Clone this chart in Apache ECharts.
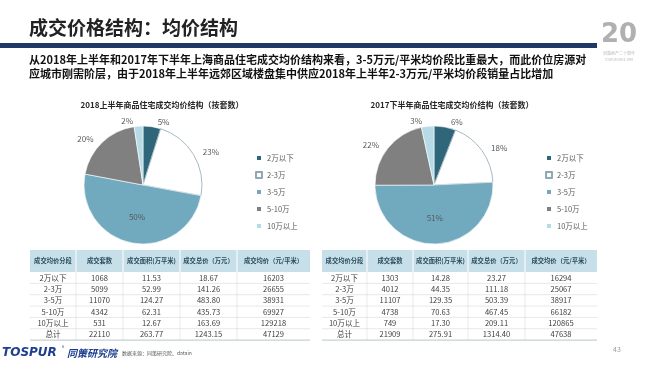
<!DOCTYPE html>
<html><head><meta charset="utf-8">
<script src="https://cdn.jsdelivr.net/npm/echarts@6/dist/echarts.min.js"></script>
<style>html,body{margin:0;padding:0;background:#fff}#c{width:650px;height:365px}</style>
</head><body><div id="c"></div>
<script>
// ---------- data ----------
const categories = ['2万以下','2-3万','3-5万','5-10万','10万以上'];
const totalLabel = '总计';
const headers = ['成交均价分段','成交套数','成交面积(万平米)','成交总价（万元）','成交均价（元/平米）'];
const title2018 = '2018上半年商品住宅成交均价结构（按套数）';
const title2017 = '2017下半年商品住宅成交均价结构（按套数）';
const count2018 = [1068, 5099, 11070, 4342, 531, 22110];
const area2018  = [11.53, 52.99, 124.27, 62.31, 12.67, 263.77];
const price2018 = [18.67, 141.26, 483.80, 435.73, 163.69, 1243.15];
const avg2018   = [16203, 26655, 38931, 69927, 129218, 47129];
const count2017 = [1303, 4012, 11107, 4738, 749, 21909];
const area2017  = [14.28, 44.35, 129.35, 70.63, 17.30, 275.91];
const price2017 = [23.27, 111.18, 503.39, 467.45, 209.11, 1314.40];
const avg2017   = [16294, 25067, 38917, 66182, 120865, 47638];
const pageTitle = '成交价格结构：均价结构';
const desc1 = '从2018年上半年和2017年下半年上海商品住宅成交均价结构来看，3-5万元/平米均价段比重最大，而此价位房源对';
const desc2 = '应城市刚需阶层，由于2018年上半年远郊区域楼盘集中供应2018年上半年2-3万元/平米均价段销量占比增加';
const sourceText = '数据来源：同策研究院、datain';
const pageNo = '43';

// ---------- styles ----------
const FONT = '"Noto Sans CJK SC","Noto Sans",sans-serif';
const colors = ['#2f6679', '#ffffff', '#71aabf', '#808080', '#b6dbe6'];
const borderColors = ['#ffffff', '#8fa8b4', '#ffffff', '#ffffff', '#ffffff'];

function pieData(counts) {
  return categories.map((n, i) => ({
    name: n, value: counts[i],
    itemStyle: { color: colors[i], borderColor: borderColors[i], borderWidth: i === 1 ? 0.8 : 0.6 },
    label: i === 2 ? { position: 'inner' } : undefined
  }));
}
function pieSeries(counts, cx) {
  return {
    type: 'pie', center: [cx, 185], radius: 59, startAngle: 90, clockwise: true,
    avoidLabelOverlap: false, animation: false,
    data: pieData(counts),
    label: { show: true, position: 'outside', color: '#595959', fontSize: 8, fontFamily: FONT,
      formatter: p => Math.round(p.percent) + '%' },
    labelLine: { show: false, length: 5, length2: 0 },
    emphasis: { disabled: true }
  };
}

// ---------- graphic builders ----------
function txt(text, x, y, size, color, opts) {
  opts = opts || {};
  return { type: 'text', silent: true, z: opts.z || 10,
    style: { text, x, y, fontSize: size, fontFamily: opts.family || FONT, fontWeight: opts.weight || 'normal',
      fontStyle: opts.style || 'normal', fill: color,
      align: opts.align || 'left', textAlign: opts.align || 'left',
      verticalAlign: 'middle', textVerticalAlign: 'middle' } };
}
function rect(x, y, w, h, fill, z) {
  return { type: 'rect', silent: true, z: z || 5, shape: { x, y, width: w, height: h }, style: { fill } };
}
function line(x1, y1, x2, y2, color, w, z) {
  return { type: 'line', silent: true, z: z || 6, shape: { x1, y1, x2, y2 }, style: { stroke: color, lineWidth: w || 0.6 } };
}
function buildTable(cols, counts, areas, prices, avgs) {
  const els = [];
  const yTop = 250, hHead = 22, rowH = 11.35;
  const x0 = cols[0], x1 = cols[cols.length - 1];
  els.push(rect(x0, yTop, x1 - x0, hHead, '#c7dfe9'));
  for (let c = 0; c < headers.length; c++) {
    const cx = (cols[c] + cols[c + 1]) / 2;
    els.push(txt(headers[c], cx, yTop + hHead / 2, 6.3, '#2a4d5e', { align: 'center', weight: 'bold' }));
    if (c > 0) {
      els.push(line(cols[c], yTop, cols[c], yTop + hHead, '#ffffff', 1, 7));
      els.push(line(cols[c], yTop + hHead, cols[c], yTop + hHead + rowH * 6, '#dcdcdc', 0.6));
    }
  }
  const labels = categories.concat([totalLabel]);
  for (let r = 0; r < 6; r++) {
    const yc = yTop + hHead + rowH * r + rowH / 2;
    const vals = [labels[r], String(counts[r]), areas[r].toFixed(2), prices[r].toFixed(2), String(avgs[r])];
    vals.forEach((v, c) => {
      const cx = (cols[c] + cols[c + 1]) / 2;
      els.push(txt(v, cx, yc, 7.6, '#404040', { align: 'center' }));
    });
    const yb = yTop + hHead + rowH * (r + 1);
    els.push(line(x0, yb, x1, yb, r === 5 ? '#b8c4ca' : '#d6d6d6', r === 5 ? 1 : 0.6));
  }
  return els;
}

const leftCols = [30, 76, 123, 180, 237, 310];
const rightCols = [322, 367, 413, 468, 525, 597];

const graphics = [].concat(
  [
    txt(pageTitle, 29, 28, 19, '#222222', { weight: 'bold' }),
    rect(0, 43, 597, 5, '#1f3864'),
    txt(desc1, 29, 60, 11, '#111111', { weight: 'bold' }),
    txt(desc2, 29, 73.5, 11, '#111111', { weight: 'bold' }),
    txt(title2018, 162, 105, 8, '#262626', { weight: 'bold', align: 'center' }),
    txt(title2017, 452, 105, 8, '#262626', { weight: 'bold', align: 'center' }),
    // top-right anniversary logo
    txt('20', 619, 35, 26, '#b0b0b0', { weight: 'bold', align: 'center', family: '"DejaVu Sans",sans-serif' }),
    txt('同策地产二十周年', 619, 53, 4, '#b8b8b8', { align: 'center' }),
    txt('TOSPUR SINCE 1998', 619, 60, 3, '#b8b8b8', { align: 'center' }),
    // footer
    txt('TOSPUR', 2, 353, 12, '#1c3f8e', { weight: 'bold', style: 'italic', family: '"DejaVu Sans",sans-serif' }),
    txt('®', 62, 347, 4, '#1c3f8e'),
    txt('同策研究院', 67, 353, 10, '#1c3f8e', { weight: 'bold', style: 'italic' }),
    txt(sourceText, 122, 353, 5, '#555555'),
    txt(pageNo, 613, 349, 7, '#9a9a9a')
  ],
  buildTable(leftCols, count2018, area2018, price2018, avg2018),
  buildTable(rightCols, count2017, area2017, price2017, avg2017)
);

const chart = echarts.init(document.getElementById('c'), null, { renderer: 'canvas' });
const legendBase = {
  data: categories, orient: 'vertical', top: 148, itemWidth: 6, itemHeight: 6, itemGap: 7,
  icon: 'rect', selectedMode: false,
  textStyle: { fontSize: 7.5, color: '#595959', fontFamily: FONT, lineHeight: 10 }
};
chart.setOption({
  animation: false,
  backgroundColor: '#ffffff',
  textStyle: { fontFamily: FONT },
  legend: [Object.assign({ left: 250 }, legendBase), Object.assign({ left: 540 }, legendBase)],
  series: [pieSeries(count2018, 143), pieSeries(count2017, 434)],
  graphic: graphics
});
</script></body></html>
